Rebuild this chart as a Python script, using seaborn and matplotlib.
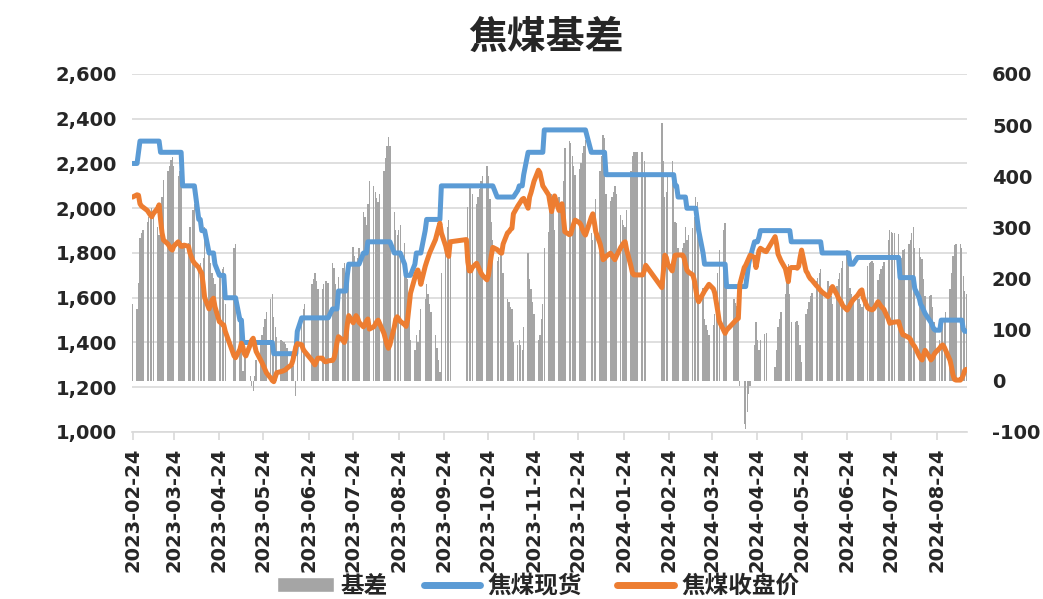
import pandas as pd
import matplotlib
matplotlib.use("Agg")
import matplotlib.pyplot as plt
import matplotlib.dates as mdates
from matplotlib.ticker import FuncFormatter
from matplotlib.patches import Patch
from matplotlib.lines import Line2D
import seaborn as sns

# 交易日：工作日去掉休市日
start_date = "2023-02-24"
end_date = "2024-09-13"
holidays = ["2023-04-05", "2023-05-01", "2023-05-02", "2023-05-03",
            "2023-06-22", "2023-06-23", "2023-09-29", "2023-10-02",
            "2023-10-03", "2023-10-04", "2023-10-05", "2023-10-06",
            "2024-01-01", "2024-02-09", "2024-02-12", "2024-02-13",
            "2024-02-14", "2024-02-15", "2024-02-16", "2024-04-04",
            "2024-04-05", "2024-05-01", "2024-05-02", "2024-05-03",
            "2024-06-10"]

# 焦煤现货（每月一行）
spot = [
    2200, 2200, 2250,  # 2023-02
    2300, 2300, 2300, 2300, 2300, 2300, 2300, 2300, 2300, 2300, 2250, 2250, 2250, 2250, 2250, 2250, 2250, 2250, 2250, 2250, 2250, 2100, 2100,  # 2023-03
    2100, 2100, 2100, 2100, 1950, 1950, 1900, 1900, 1900, 1800, 1800, 1800, 1800, 1750, 1700, 1700, 1700, 1700, 1600,  # 2023-04
    1600, 1600, 1500, 1500, 1400, 1400, 1400, 1400, 1400, 1400, 1400, 1400, 1400, 1400, 1400, 1400, 1400, 1400, 1400, 1350,  # 2023-05
    1350, 1350, 1350, 1350, 1350, 1350, 1350, 1350, 1350, 1350, 1350, 1450, 1510, 1510, 1510, 1510, 1510, 1510, 1510, 1510,  # 2023-06
    1510, 1510, 1510, 1510, 1510, 1550, 1550, 1550, 1550, 1630, 1630, 1630, 1630, 1700, 1750, 1750, 1750, 1750, 1750, 1750, 1800,  # 2023-07
    1800, 1800, 1850, 1850, 1850, 1850, 1850, 1850, 1850, 1850, 1850, 1850, 1850, 1850, 1800, 1800, 1800, 1800, 1800, 1750, 1700, 1700, 1700,  # 2023-08
    1700, 1750, 1800, 1800, 1800, 1800, 1900, 1950, 1950, 1950, 1950, 1950, 1950, 1950, 1950, 2100, 2100, 2100, 2100, 2100,  # 2023-09
    2100, 2100, 2100, 2100, 2100, 2100, 2100, 2100, 2100, 2100, 2100, 2100, 2100, 2100, 2100, 2050, 2050,  # 2023-10
    2050, 2050, 2050, 2050, 2050, 2050, 2050, 2050, 2080, 2100, 2100, 2100, 2150, 2250, 2250, 2250, 2250, 2250, 2250, 2250, 2250, 2250,  # 2023-11
    2350, 2350, 2350, 2350, 2350, 2350, 2350, 2350, 2350, 2350, 2350, 2350, 2350, 2350, 2350, 2350, 2350, 2350, 2350, 2350, 2350,  # 2023-12
    2250, 2250, 2250, 2250, 2250, 2250, 2250, 2250, 2150, 2150, 2150, 2150, 2150, 2150, 2150, 2150, 2150, 2150, 2150, 2150, 2150, 2150,  # 2024-01
    2150, 2150, 2150, 2150, 2150, 2150, 2150, 2150, 2150, 2150, 2150, 2150, 2150, 2100, 2100,  # 2024-02
    2050, 2050, 2050, 2050, 2000, 2000, 2000, 2000, 2000, 1950, 1900, 1800, 1750, 1750, 1750, 1750, 1750, 1750, 1750, 1750, 1750,  # 2024-03
    1750, 1750, 1650, 1650, 1650, 1650, 1650, 1650, 1650, 1650, 1700, 1750, 1780, 1850, 1850, 1850, 1870, 1900, 1900, 1900,  # 2024-04
    1900, 1900, 1900, 1900, 1900, 1900, 1900, 1900, 1900, 1850, 1850, 1850, 1850, 1850, 1850, 1850, 1850, 1850, 1850, 1850,  # 2024-05
    1850, 1850, 1850, 1850, 1800, 1800, 1800, 1800, 1800, 1800, 1800, 1800, 1800, 1800, 1800, 1800, 1750, 1750, 1750,  # 2024-06
    1780, 1780, 1780, 1780, 1780, 1780, 1780, 1780, 1780, 1780, 1780, 1780, 1780, 1780, 1780, 1780, 1780, 1780, 1780, 1780, 1780, 1690, 1690,  # 2024-07
    1690, 1690, 1690, 1690, 1690, 1690, 1640, 1600, 1570, 1560, 1545, 1530, 1500, 1490, 1475, 1460, 1455, 1455, 1500, 1500, 1500, 1500,  # 2024-08
    1500, 1500, 1500, 1500, 1500, 1500, 1500, 1460, 1450, 1450,  # 2024-09
]

# 焦煤收盘价（每月一行）
close = [
    2050, 2060, 2058,  # 2023-02
    2020, 2010, 2005, 1990, 1980, 1970, 1962, 1975, 2000, 2015, 1950, 1890, 1858, 1840, 1830, 1818, 1813, 1830, 1850, 1840, 1830, 1830, 1835,  # 2023-03
    1830, 1800, 1765, 1755, 1735, 1720, 1710, 1660, 1600, 1550, 1570, 1590, 1598, 1560, 1493, 1488, 1482, 1478, 1450,  # 2023-04
    1340, 1332, 1370, 1397, 1380, 1350, 1340, 1390, 1410, 1419, 1390, 1360, 1322, 1310, 1295, 1280, 1265, 1240, 1230, 1225,  # 2023-05
    1245, 1265, 1270, 1272, 1275, 1278, 1285, 1300, 1320, 1350, 1380, 1395, 1390, 1370, 1360, 1320, 1310, 1300, 1315, 1330,  # 2023-06
    1330, 1320, 1314, 1315, 1318, 1320, 1330, 1360, 1400, 1426, 1410, 1400, 1420, 1480, 1520, 1488, 1505, 1520, 1510, 1490, 1470,  # 2023-07
    1480, 1495, 1505, 1460, 1470, 1480, 1492, 1500, 1485, 1440, 1415, 1390, 1374, 1390, 1470, 1505, 1515, 1505, 1495, 1480, 1472, 1500, 1560,  # 2023-08
    1620, 1690, 1710, 1724, 1700, 1660, 1740, 1761, 1780, 1800, 1815, 1860, 1885, 1910, 1933, 1890, 1830, 1800, 1785, 1850,  # 2023-09
    1860, 1760, 1720, 1720, 1735, 1754, 1740, 1725, 1710, 1700, 1680, 1700, 1745, 1790, 1825, 1815, 1808,  # 2023-10
    1802, 1799, 1840, 1890, 1895, 1905, 1910, 1975, 2010, 2020, 2030, 2040, 2044, 2000, 2050, 2070, 2095, 2120, 2170, 2160, 2130, 2100,  # 2023-11
    2090, 2059, 2020, 1985, 2020, 2055, 1990, 2005, 2020, 1960, 1895, 1882, 1885, 1910, 1930, 1947, 1935, 1925, 1905, 1890, 1880,  # 2023-12
    1960, 1975, 1940, 1895, 1840, 1810, 1770, 1775, 1785, 1799, 1790, 1780, 1770, 1785, 1825, 1835, 1845, 1850, 1815, 1740, 1710, 1702,  # 2024-01
    1702, 1702, 1702, 1702, 1720, 1745, 1645, 1720, 1790, 1780, 1750, 1720, 1760, 1790, 1791,  # 2024-02
    1791, 1791, 1780, 1750, 1724, 1715, 1702, 1680, 1640, 1600, 1582, 1618, 1630, 1640, 1650, 1660, 1640, 1620, 1580, 1540, 1495,  # 2024-03
    1455, 1441, 1455, 1490, 1497, 1503, 1508, 1660, 1735, 1745, 1760, 1775, 1790, 1780, 1735, 1770, 1810, 1821, 1808, 1806,  # 2024-04
    1873, 1840, 1795, 1780, 1765, 1730, 1700, 1672, 1730, 1735, 1735, 1732, 1740, 1780, 1813, 1720, 1710, 1695, 1685, 1679,  # 2024-05
    1655, 1648, 1640, 1632, 1625, 1605, 1615, 1635, 1650, 1615, 1600, 1590, 1580, 1565, 1545, 1555, 1568, 1580, 1590,  # 2024-06
    1610, 1620, 1630, 1635, 1600, 1555, 1550, 1548, 1546, 1550, 1582, 1572, 1562, 1555, 1548, 1505, 1486, 1488, 1490, 1491, 1493, 1470, 1450,  # 2024-07
    1434, 1432, 1422, 1415, 1400, 1390, 1381, 1340, 1328, 1322, 1345, 1365, 1335, 1322, 1330, 1345, 1355, 1375, 1385, 1389, 1380, 1365,  # 2024-08
    1320, 1290, 1255, 1235, 1232, 1232, 1240, 1255, 1275, 1280,  # 2024-09
]

title = "焦煤基差"
labels = ["基差", "焦煤现货", "焦煤收盘价"]
colors = ["#A5A5A5", "#5B9BD5", "#ED7D31"]

dates = pd.bdate_range(start_date, end_date)
dates = dates[~dates.isin(pd.to_datetime(holidays))]

df = pd.DataFrame({"date": dates, "spot": spot, "close": close})
df["basis"] = df["spot"] - df["close"]

sns.set_theme(style="white")
plt.rcParams["font.family"] = ["DejaVu Sans", "Noto Sans CJK SC"]
plt.rcParams["font.weight"] = "bold"
plt.rcParams["axes.unicode_minus"] = False

fig = plt.figure(figsize=(10.43, 5.99), dpi=100)
ax = fig.add_axes([0.1268, 0.2788, 0.8003, 0.5977])

# 左轴：价格 + 网格
ax.set_ylim(1000, 2600)
ax.set_yticks(range(1000, 2601, 200))
ax.yaxis.set_major_formatter(FuncFormatter(lambda v, p: f"{v:,.0f}"))
ax.grid(axis="y", color="#D9D9D9", lw=1.2)
ax.grid(axis="x", visible=False)

# 右轴：基差柱子
ax2 = ax.twinx()
sns.barplot(x=df["date"], y=df["basis"], native_scale=True, width=0.9,
            color=colors[0], saturation=1, linewidth=0, errorbar=None, ax=ax2)
ax2.set_ylim(-100, 600)
ax2.set_yticks(range(-100, 601, 100))
ax2.set_ylabel("")

# 价格线
ax3 = ax.twinx()
sns.lineplot(x=df["date"], y=df["spot"], ax=ax3, color=colors[1], lw=3.6,
             solid_joinstyle="round", solid_capstyle="round")
sns.lineplot(x=df["date"], y=df["close"], ax=ax3, color=colors[2], lw=3.6,
             solid_joinstyle="round", solid_capstyle="round")
ax3.set_ylim(1000, 2600)
ax3.set_yticks([])
ax3.set_ylabel("")

for a in (ax, ax2, ax3):
    for s in a.spines.values():
        s.set_visible(False)
    a.set_xlabel("")
ax.spines["bottom"].set_visible(True)
ax.spines["bottom"].set_color("#D9D9D9")
ax.spines["bottom"].set_linewidth(1.2)

tick_dates = pd.date_range("2023-02-24", "2024-08-24", freq=pd.DateOffset(months=1))
ax.set_xlim(pd.Timestamp(start_date) - pd.Timedelta(hours=6),
            pd.Timestamp(end_date) + pd.Timedelta(hours=12))
ax.set_xticks(tick_dates)
ax.xaxis.set_major_formatter(mdates.DateFormatter("%Y-%m-%d"))
ax.tick_params(axis="x", rotation=90, length=6, width=1.2, color="#D9D9D9",
               pad=5, labelsize=14, bottom=True)
ax.tick_params(axis="y", length=0, pad=11, labelsize=14)
ax2.tick_params(axis="y", length=0, pad=18, labelsize=14)

fig.text(0.523, 0.938, title, ha="center", va="center", fontsize=28,
         fontweight="bold", family=["Noto Sans CJK SC"])

handles = [Patch(facecolor=colors[0]),
           Line2D([], [], color=colors[1], lw=5),
           Line2D([], [], color=colors[2], lw=5)]
fig.legend(handles, labels, loc="center", bbox_to_anchor=(0.516, 0.022), ncol=3,
           frameon=False, handlelength=2.4, handleheight=0.6, handletextpad=0.3,
           columnspacing=1.5, prop={"family": "Noto Sans CJK SC", "size": 17, "weight": "bold"})

fig.savefig("out.png", dpi=100)
